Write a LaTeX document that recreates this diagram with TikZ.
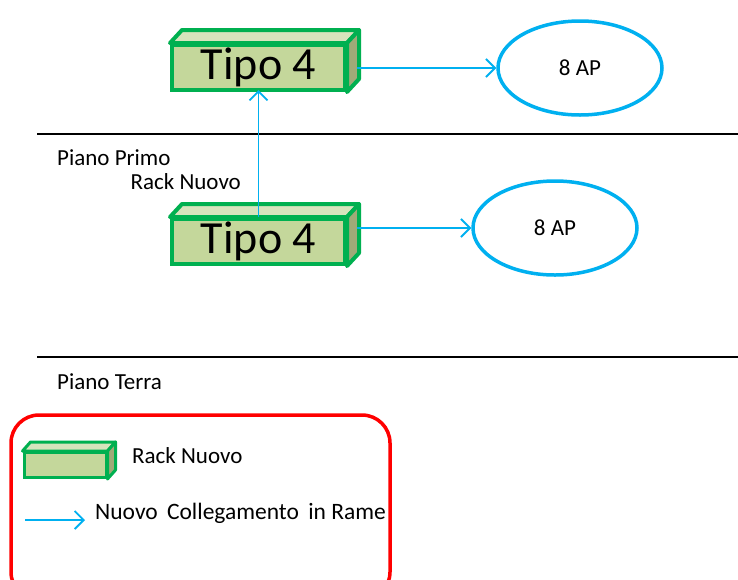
\documentclass[tikz,border=0pt]{standalone}
\usepackage{fontspec}
\setmainfont{Carlito}
\usetikzlibrary{shapes.geometric, arrows.meta}

\definecolor{rackgreen}{RGB}{0,176,80}
\definecolor{rackfront}{RGB}{196,215,155}
\definecolor{racktop}{RGB}{215,228,189}
\definecolor{rackside}{RGB}{160,170,120}
\definecolor{linkblue}{RGB}{0,176,240}

\begin{document}
\begin{tikzpicture}[x=1pt, y=-1pt]

\tikzset{rack/.style = {draw=rackgreen, fill=rackfront, line width=4pt, minimum width=173pt, minimum height=45pt, inner sep=0pt, font=\fontsize{46}{50}\selectfont}}
\tikzset{apnet/.style = {ellipse, draw=linkblue, line width=3.5pt, minimum width=164pt, minimum height=94pt, font=\fontsize{23}{26}\selectfont}}
\tikzset{link/.style = {-{Straight Barb[length=9pt, width=18pt]}, draw=linkblue, line width=1.8pt}}
\tikzset{label/.style = {font=\fontsize{23}{26}\selectfont, inner sep=0pt}}
\tikzset{floor/.style = {line width=2pt}}

\clip (0,0) rectangle (738,579);
\fill[white] (0,0) rectangle (738,579);

%racks
\node[rack] (r1) at (258.5,67.5) {Tipo 4};
\node[rack] (r2) at (258.5,241.5) {Tipo 4};
\foreach \r in {r1, r2} {
  \filldraw[draw=rackgreen, fill=racktop, line width=4pt, line join=round]
    (\r.north west) -- ++(12,-13) -- ([shift={(12,-13)}]\r.north east) -- (\r.north east) -- cycle;
  \filldraw[draw=rackgreen, fill=rackside, line width=4pt, line join=round]
    (\r.north east) -- ++(12,-13) -- ([shift={(12,-13)}]\r.south east) -- (\r.south east) -- cycle;
}
%access points
\node[apnet] (ap1) at (580,68) {8 AP};
\node[apnet] (ap2) at (555,228) {8 AP};
%floors
\coordinate (f1a) at (37,134);
\coordinate (f1b) at (738,134);
\coordinate (f0a) at (37,357);
\coordinate (f0b) at (738,357);
\draw[floor] (f1a) -- (f1b);
\draw[floor] (f0a) -- (f0b);
\node[label, anchor=west] (primo) at (57,158) {Piano Primo};
\node[label, anchor=east] (nuovo) at (241,182) {Rack Nuovo};
\node[label, anchor=west] (terra) at (57,382) {Piano Terra};
%links
\draw[link] ([xshift=10pt]r1.east |- ap1.west) -- (ap1.west);
\draw[link] ([xshift=10pt]r2.east |- ap2.west) -- (ap2.west);
\draw[link] (r2.north) -- ([yshift=2pt]r1.south);

%legend
\draw[red, line width=3.5pt, rounded corners=28pt] (11,415) rectangle (390,600);
\node[draw=rackgreen, fill=rackfront, line width=3pt, minimum width=82pt, minimum height=25pt, inner sep=0pt] (lrack) at (65,465) {};
\filldraw[draw=rackgreen, fill=racktop, line width=3pt, line join=round]
  (lrack.north west) -- ++(8,-9) -- ([shift={(8,-9)}]lrack.north east) -- (lrack.north east) -- cycle;
\filldraw[draw=rackgreen, fill=rackside, line width=3pt, line join=round]
  (lrack.north east) -- ++(8,-9) -- ([shift={(8,-9)}]lrack.south east) -- (lrack.south east) -- cycle;
\node[label, anchor=west] (lracktext) at (132,456) {Rack Nuovo};
\coordinate (la) at (25,520);
\coordinate (lb) at (85,520);
\draw[link] (la) -- (lb);
\node[label, anchor=west, font=\fontsize{23.5}{26}\selectfont] (llinktext) at (95,513) {Nuovo\hspace{4pt} Collegamento\hspace{4pt} in Rame};

\end{tikzpicture}
\end{document}
